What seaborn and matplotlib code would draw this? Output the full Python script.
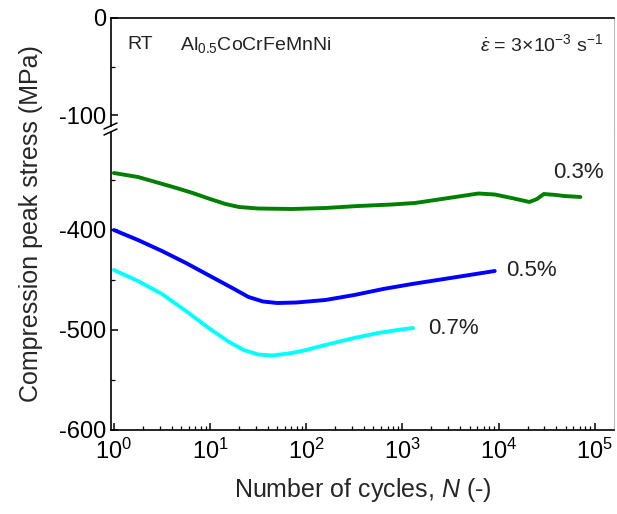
import numpy as np
import pandas as pd
import matplotlib
matplotlib.use("Agg")
import matplotlib.pyplot as plt
import seaborn as sns
from matplotlib.ticker import LogLocator, NullFormatter, FixedLocator
from matplotlib.lines import Line2D

# ---------------- data ----------------
n_03 = [1, 1.78, 2.95, 4.47, 6.6, 10, 14.5, 20, 31.6, 71, 158, 347, 776, 1350,
        3020, 6170, 9120, 14450, 20900, 25100, 29500, 39800, 47900, 70800]
s_03 = [-343, -347, -353, -358, -363, -369, -374, -377, -378.5, -379, -378, -376,
        -374.5, -373, -368, -363.5, -364.5, -368.5, -372, -369, -364, -365, -366, -367]

n_05 = [1, 1.78, 3.16, 5.62, 10, 17.8, 25.1, 35.5, 50, 79, 158, 316, 631, 1260,
        3160, 9120]
s_05 = [-400, -410, -421, -433, -446, -459, -467, -471.5, -473, -472.5, -470,
        -465, -459, -454, -448, -441]

n_07 = [1, 1.78, 3.16, 5.62, 10, 15.8, 22.4, 31.6, 44.7, 71, 100, 158, 316, 562,
        891, 1290]
s_07 = [-440, -451, -464, -481, -499, -512, -520, -524.5, -525.5, -523, -520,
        -515, -508, -503, -500, -498]

series_names = ["0.3%", "0.5%", "0.7%"]
series_colors = ["#008000", "#0000ff", "#00ffff"]
label_pos_n = [36700, 12000, 1860]
label_pos_s = [-342, -440, -498]

yticks_top = [0, -100]
yticks_bot = [-400, -500, -600]
xticks = [1, 10, 100, 1000, 10000, 100000]

df = pd.concat([
    pd.DataFrame({"N": n_03, "stress": s_03, "amp": "0.3%"}),
    pd.DataFrame({"N": n_05, "stress": s_05, "amp": "0.5%"}),
    pd.DataFrame({"N": n_07, "stress": s_07, "amp": "0.7%"}),
])

# ---------------- style ----------------
sns.set_theme(style="ticks")
plt.rcParams["font.family"] = ["Liberation Sans", "DejaVu Sans"]
plt.rcParams["mathtext.fontset"] = "custom"
plt.rcParams["mathtext.rm"] = "Liberation Sans"
plt.rcParams["mathtext.it"] = "Liberation Sans:italic"
plt.rcParams["mathtext.bf"] = "Liberation Sans:bold"
plt.rcParams["axes.unicode_minus"] = False

W, H = 617, 514
fig = plt.figure(figsize=(W / 100, H / 100), dpi=100)

L, R = 111, 614
T, B, MID = 18, 430, 129
ax_top = fig.add_axes([L / W, 1 - MID / H, (R - L) / W, (MID - T) / H])
ax_bot = fig.add_axes([L / W, 1 - B / H, (R - L) / W, (B - MID) / H])

sns.lineplot(data=df, x="N", y="stress", hue="amp", palette=series_colors,
             hue_order=series_names, estimator=None, sort=False,
             linewidth=2.8, legend=False, ax=ax_bot)

xmin, xmax = 10 ** -0.03, 10 ** 5.2
for ax in (ax_top, ax_bot):
    ax.set_xscale("log")
    ax.set_xlim(xmin, xmax)
    ax.set_xlabel("")
    ax.set_ylabel("")
    for sp in ax.spines.values():
        sp.set_linewidth(1.2)
        sp.set_color("black")
    ax.spines["right"].set_color("#bbbbbb")
    ax.spines["right"].set_linewidth(0.8)
    ax.tick_params(axis="both", which="both", direction="in", colors="black",
                   labelsize=17, top=False, right=False)
    ax.tick_params(which="major", length=5, width=1.1)
    ax.tick_params(which="minor", length=3, width=0.9)

ax_top.set_ylim(-114, 0)
ax_bot.set_ylim(-600, -299)

ax_top.spines["bottom"].set_visible(False)
ax_bot.spines["top"].set_visible(False)
ax_top.tick_params(axis="x", which="both", bottom=False, labelbottom=False)

ax_top.yaxis.set_major_locator(FixedLocator(yticks_top))
ax_top.yaxis.set_minor_locator(FixedLocator([-50]))
ax_bot.yaxis.set_major_locator(FixedLocator(yticks_bot))
ax_bot.yaxis.set_minor_locator(FixedLocator([-350, -450, -550]))

ax_bot.xaxis.set_major_locator(FixedLocator(xticks))
ax_bot.xaxis.set_minor_locator(LogLocator(base=10, subs=np.arange(2, 10), numticks=20))
ax_bot.xaxis.set_minor_formatter(NullFormatter())
ax_bot.set_xticklabels([r"$10^{%d}$" % int(np.log10(v)) for v in xticks])
ax_bot.tick_params(axis="x", pad=6)

# break in left spine
ax_top.spines["left"].set_bounds(-111, 0)
ax_bot.spines["left"].set_bounds(-600, -302)
for y0 in (126, 132):
    fig.add_artist(Line2D([(L - 7) / W, (L + 6) / W],
                          [1 - (y0 + 3) / H, 1 - (y0 - 3) / H],
                          transform=fig.transFigure, color="black", lw=1.1))

# curve labels
for name, nx, sy in zip(series_names, label_pos_n, label_pos_s):
    ax_bot.text(nx, sy, name, fontsize=16, ha="left", va="center", color="#222222")

# annotations in the top panel
ax_top.text(0.032, 0.76, "RT", transform=ax_top.transAxes, fontsize=14,
            ha="left", va="center", color="#222222")
ax_top.text(0.137, 0.76, r"Al$_{0.5}$CoCrFeMnNi", transform=ax_top.transAxes,
            fontsize=14, ha="left", va="center", color="#222222")
ax_top.text(0.978, 0.76, r"$\dot{\varepsilon}$ = 3×10$^{-3}$ s$^{-1}$",
            transform=ax_top.transAxes, fontsize=14, ha="right", va="center",
            color="#222222")

fig.text(0.05, 1 - 224 / H, "Compression peak stress (MPa)", rotation=90,
         ha="center", va="center", fontsize=18)
fig.text((L + R) / 2 / W, 1 - 490 / H, "Number of cycles, $N$ (-)",
         ha="center", va="center", fontsize=18)

fig.savefig("out.png", dpi=100)
